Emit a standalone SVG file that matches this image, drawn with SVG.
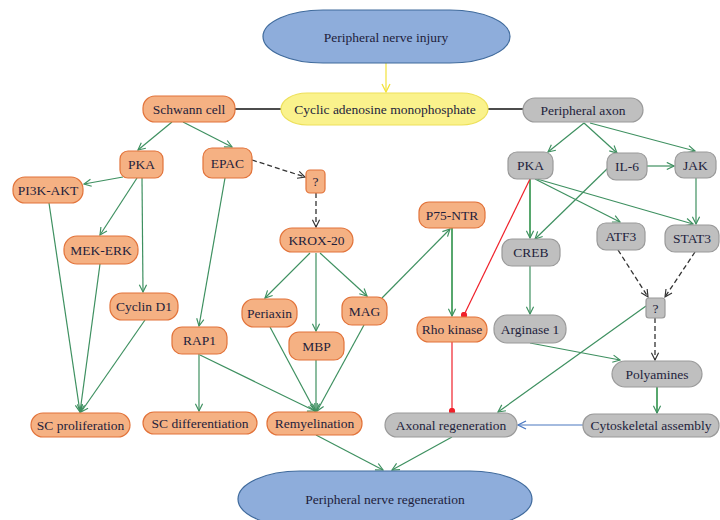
<svg xmlns="http://www.w3.org/2000/svg" width="720" height="520" viewBox="0 0 720 520">
<defs>
<style>
.o{fill:#F5B183;stroke:#E2733A;stroke-width:1.2}
.g{fill:#BFBFBF;stroke:#9A9A9A;stroke-width:1.2}
.b{fill:#8EADDB;stroke:#3F6A9C;stroke-width:1.2}
.y{fill:#FAF28C;stroke:#EDE05A;stroke-width:1.2}
.t text{font-size:13.5px;fill:#1E1E3C;text-anchor:middle;dominant-baseline:central}
.e{fill:none;stroke:#3E9060;stroke-width:1.2}
.ed{fill:none;stroke:#1F8A3C;stroke-width:1.5}
.k{fill:none;stroke:#111;stroke-width:1.3}
.dash{fill:none;stroke:#333;stroke-width:1.3;stroke-dasharray:5,3}
.red{fill:none;stroke:#F0202A;stroke-width:1.2}
</style>
<marker id="ag" viewBox="0 0 10 10" refX="9" refY="5" markerWidth="9" markerHeight="9" markerUnits="userSpaceOnUse" orient="auto"><path d="M1,1 L9,5 L1,9" fill="none" stroke="#3E9060" stroke-width="1.3"/></marker>
<marker id="ak" viewBox="0 0 10 10" refX="9" refY="5" markerWidth="9" markerHeight="9" markerUnits="userSpaceOnUse" orient="auto"><path d="M1,1 L9,5 L1,9" fill="none" stroke="#333" stroke-width="1.3"/></marker>
<marker id="ay" viewBox="0 0 10 10" refX="9" refY="5" markerWidth="10" markerHeight="10" markerUnits="userSpaceOnUse" orient="auto"><path d="M1,1 L9,5 L1,9" fill="none" stroke="#F2E23A" stroke-width="1.3"/></marker>
<marker id="ab" viewBox="0 0 10 10" refX="9" refY="5" markerWidth="10" markerHeight="10" markerUnits="userSpaceOnUse" orient="auto"><path d="M1,1 L9,5 L1,9" fill="none" stroke="#4A78C0" stroke-width="1.3"/></marker>
<marker id="dot" viewBox="0 0 10 10" refX="5" refY="5" markerWidth="7" markerHeight="7" markerUnits="userSpaceOnUse"><circle cx="5" cy="5" r="4.5" fill="#F0202A"/></marker>
</defs>
<rect width="720" height="520" fill="#fff"/>
<g id="connectors">
<line x1="386" y1="63" x2="386" y2="92" stroke="#F2E23A" stroke-width="1.2" marker-end="url(#ay)"/>
<line class="k" x1="235" y1="109" x2="281" y2="109"/>
<line class="k" x1="488" y1="109" x2="523" y2="109"/>
<line class="e" x1="172" y1="122" x2="138" y2="150" marker-end="url(#ag)"/>
<line class="e" x1="183" y1="122" x2="232" y2="147" marker-end="url(#ag)"/>
<line class="dash" x1="252" y1="160" x2="305" y2="177" marker-end="url(#ak)"/>
<line class="e" x1="123" y1="177" x2="84" y2="184" marker-end="url(#ag)"/>
<line class="e" x1="137" y1="178" x2="100" y2="235" marker-end="url(#ag)"/>
<line class="e" x1="142" y1="178" x2="143" y2="292" marker-end="url(#ag)"/>
<line class="e" x1="225" y1="178" x2="199" y2="326" marker-end="url(#ag)"/>
<line class="dash" x1="316" y1="193" x2="316" y2="227" marker-end="url(#ak)"/>
<line class="e" x1="310" y1="253" x2="265" y2="298" marker-end="url(#ag)"/>
<line class="e" x1="316" y1="253" x2="316" y2="331" marker-end="url(#ag)"/>
<line class="e" x1="320" y1="253" x2="367" y2="296" marker-end="url(#ag)"/>
<line class="e" x1="382" y1="298" x2="450" y2="229" marker-end="url(#ag)"/>
<line class="ed" x1="452" y1="228" x2="452" y2="316" marker-end="url(#ag)"/>
<line class="e" x1="49" y1="203" x2="80" y2="412" marker-end="url(#ag)"/>
<line class="e" x1="100" y1="264" x2="80" y2="412" marker-end="url(#ag)"/>
<line class="e" x1="145" y1="320" x2="81" y2="412" marker-end="url(#ag)"/>
<line class="e" x1="199" y1="354" x2="199" y2="411" marker-end="url(#ag)"/>
<line class="e" x1="200" y1="355" x2="315" y2="411" marker-end="url(#ag)"/>
<line class="e" x1="270" y1="327" x2="315" y2="411" marker-end="url(#ag)"/>
<line class="e" x1="316" y1="360" x2="316" y2="411" marker-end="url(#ag)"/>
<line class="e" x1="364" y1="325" x2="317" y2="411" marker-end="url(#ag)"/>
<line class="e" x1="316" y1="435" x2="383" y2="470" marker-end="url(#ag)"/>
<line class="e" x1="452" y1="437" x2="392" y2="470" marker-end="url(#ag)"/>
<line class="e" x1="584" y1="123" x2="548" y2="152" marker-end="url(#ag)"/>
<line class="e" x1="584" y1="123" x2="617" y2="153" marker-end="url(#ag)"/>
<line class="e" x1="590" y1="123" x2="695" y2="151" marker-end="url(#ag)"/>
<line class="e" x1="647" y1="166" x2="674" y2="166" marker-end="url(#ag)"/>
<line class="e" x1="696" y1="178" x2="696" y2="224" marker-end="url(#ag)"/>
<line class="e" x1="608" y1="168" x2="535" y2="239" marker-end="url(#ag)"/>
<line class="ed" x1="530" y1="179" x2="530" y2="238" marker-end="url(#ag)"/>
<line class="e" x1="535" y1="179" x2="620" y2="222" marker-end="url(#ag)"/>
<line class="e" x1="537" y1="179" x2="693" y2="224" marker-end="url(#ag)"/>
<line class="red" x1="530" y1="179" x2="464" y2="315" marker-end="url(#dot)"/>
<line class="red" x1="452" y1="342" x2="452" y2="411" marker-end="url(#dot)"/>
<line class="e" x1="530" y1="266" x2="530" y2="314" marker-end="url(#ag)"/>
<line class="dash" x1="618" y1="250" x2="648" y2="297" marker-end="url(#ak)"/>
<line class="dash" x1="695" y1="252" x2="665" y2="297" marker-end="url(#ak)"/>
<line class="dash" x1="655" y1="318" x2="655" y2="360" marker-end="url(#ak)"/>
<line class="e" x1="646" y1="306" x2="498" y2="412" marker-end="url(#ag)"/>
<line class="e" x1="530" y1="343" x2="620" y2="360" marker-end="url(#ag)"/>
<line class="ed" x1="657" y1="387" x2="657" y2="413" marker-end="url(#ag)"/>
<line x1="583" y1="425" x2="518" y2="425" stroke="#4A78C0" stroke-width="1.2" marker-end="url(#ab)"/>
</g>
<g class="t" font-family="Liberation Serif, DejaVu Serif, serif">
<g id="injury"><rect class="b" x="263" y="10" width="247" height="53" rx="60" ry="26.5"/><text x="386" y="37">Peripheral nerve injury</text></g>
<g id="camp"><rect class="y" x="281" y="93" width="207" height="32" rx="26" ry="16"/><text x="385" y="109">Cyclic adenosine monophosphate</text></g>
<g id="schwann"><rect class="o" x="143" y="96" width="92" height="26" rx="12"/><text x="189" y="109">Schwann cell</text></g>
<g id="paxon"><rect class="g" x="523" y="98" width="120" height="24" rx="12"/><text x="583" y="110">Peripheral axon</text></g>
<g id="pka1"><rect class="o" x="120" y="151" width="43" height="27" rx="8"/><text x="141.5" y="164.5">PKA</text></g>
<g id="epac"><rect class="o" x="203" y="148" width="49" height="30" rx="9"/><text x="227.5" y="163">EPAC</text></g>
<g id="q1"><rect class="o" x="306" y="170" width="19" height="23" rx="4"/><text x="315.5" y="181.5" font-size="11">?</text></g>
<g id="pi3k"><rect class="o" x="13" y="177" width="70" height="26" rx="12"/><text x="48" y="190">PI3K-AKT</text></g>
<g id="mekerk"><rect class="o" x="64" y="236" width="74" height="28" rx="13"/><text x="101" y="250">MEK-ERK</text></g>
<g id="cyclin"><rect class="o" x="110" y="293" width="68" height="27" rx="12"/><text x="144" y="306.5">Cyclin D1</text></g>
<g id="rap1"><rect class="o" x="172" y="327" width="55" height="27" rx="10"/><text x="199.5" y="340.5">RAP1</text></g>
<g id="krox"><rect class="o" x="280" y="228" width="73" height="24" rx="12"/><text x="316.5" y="240">KROX-20</text></g>
<g id="periaxin"><rect class="o" x="242" y="299" width="55" height="28" rx="12"/><text x="269.5" y="313">Periaxin</text></g>
<g id="mbp"><rect class="o" x="289" y="332" width="55" height="28" rx="10"/><text x="316.5" y="346">MBP</text></g>
<g id="mag"><rect class="o" x="342" y="297" width="45" height="28" rx="10"/><text x="364.5" y="311">MAG</text></g>
<g id="p75"><rect class="o" x="419" y="202" width="66" height="26" rx="10"/><text x="452" y="215">P75-NTR</text></g>
<g id="rho"><rect class="o" x="417" y="317" width="70" height="25" rx="12"/><text x="452" y="329.5">Rho kinase</text></g>
<g id="pka2"><rect class="g" x="508" y="152" width="45" height="27" rx="9"/><text x="530.5" y="165.5">PKA</text></g>
<g id="il6"><rect class="g" x="607" y="153" width="40" height="27" rx="9"/><text x="627" y="166.5">IL-6</text></g>
<g id="jak"><rect class="g" x="675" y="152" width="41" height="26" rx="9"/><text x="695.5" y="165">JAK</text></g>
<g id="creb"><rect class="g" x="502" y="239" width="58" height="27" rx="10"/><text x="531" y="252.5">CREB</text></g>
<g id="arginase"><rect class="g" x="494" y="315" width="72" height="28" rx="13"/><text x="530" y="329">Arginase 1</text></g>
<g id="atf3"><rect class="g" x="597" y="223" width="48" height="27" rx="9"/><text x="621" y="236.5">ATF3</text></g>
<g id="stat3"><rect class="g" x="665" y="225" width="54" height="27" rx="10"/><text x="692" y="238.5">STAT3</text></g>
<g id="q2"><rect class="g" x="646" y="298" width="19" height="20" rx="3"/><text x="655.5" y="308" font-size="11">?</text></g>
<g id="polyamines"><rect class="g" x="612" y="361" width="90" height="26" rx="13"/><text x="657" y="374">Polyamines</text></g>
<g id="cyto"><rect class="g" x="583" y="414" width="136" height="23" rx="11"/><text x="651" y="425.5">Cytoskeletal assembly</text></g>
<g id="axonal"><rect class="g" x="385" y="413" width="132" height="24" rx="12"/><text x="451" y="425">Axonal regeneration</text></g>
<g id="scprol"><rect class="o" x="31" y="413" width="99" height="24" rx="12"/><text x="80.5" y="425">SC proliferation</text></g>
<g id="scdiff"><rect class="o" x="143" y="412" width="114" height="22" rx="11"/><text x="200" y="423">SC differentiation</text></g>
<g id="remy"><rect class="o" x="267" y="412" width="95" height="23" rx="11"/><text x="314.5" y="423.5">Remyelination</text></g>
<g id="pnr"><rect class="b" x="238" y="471" width="294" height="56" rx="62" ry="28"/><text x="385" y="499">Peripheral nerve regeneration</text></g>
</g>
</svg>
